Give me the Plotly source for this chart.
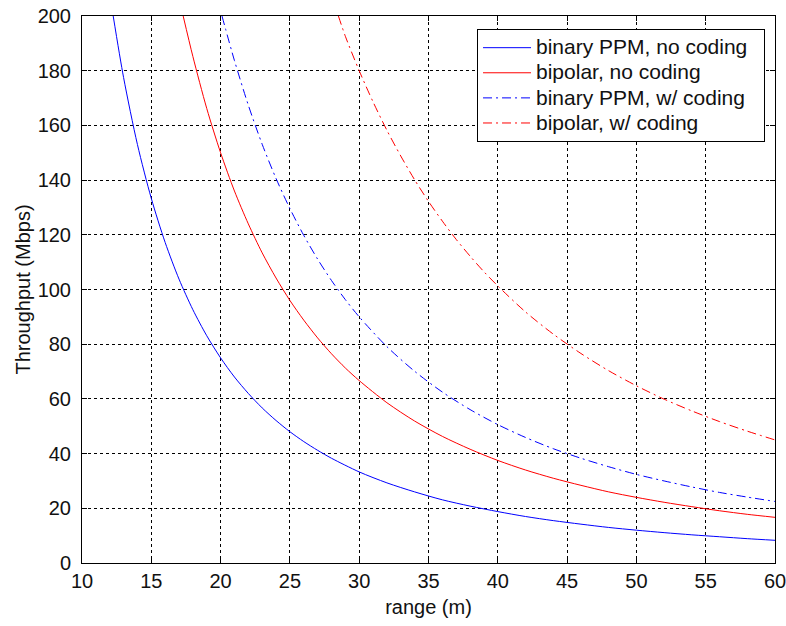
import plotly.graph_objects as go

# Values
x_bppm = [12.25, 13, 14, 15, 16, 17, 18, 19, 20, 21, 22, 23, 24, 25, 26, 27, 28, 30, 32, 34,
          36, 38, 40, 42, 44, 46, 48, 50, 52, 54, 56, 58, 60]
y_bppm = [200, 177.5, 153, 133.3, 117.2, 103.8, 92.6, 83.1, 75, 68, 62, 56.7, 52.1, 48,
          44.4, 41.2, 38.3, 33.3, 29.3, 26, 23.1, 20.8, 18.8, 17, 15.5, 14.2, 13, 12, 11.1,
          10.3, 9.6, 8.9, 8.3]

x_bip = [17.3, 18, 19, 20, 21, 22, 23, 24, 25, 26, 27, 28, 29, 30, 32, 34, 36, 38, 40, 42,
         44, 46, 48, 50, 52, 54, 56, 58, 60]
y_bip = [200, 185.2, 166.2, 150, 136, 124, 113.4, 104.2, 96, 88.8, 82.3, 76.5, 71.3, 66.7,
         58.6, 51.9, 46.3, 41.6, 37.5, 34, 31, 28.4, 26, 24, 22.2, 20.6, 19.1, 17.8, 16.7]

x_bppm_c = [20.1, 21, 22, 23, 24, 25, 26, 27, 28, 29, 30, 32, 34, 36, 38, 40, 42, 44, 46,
            48, 50, 52, 54, 56, 58, 60]
y_bppm_c = [200, 183.7, 167.4, 153.1, 140.6, 129.6, 119.8, 111.1, 103.3, 96.3, 90, 79.1,
            70.1, 62.5, 56.1, 50.6, 45.9, 41.8, 38.3, 35.2, 32.4, 30, 27.8, 25.8, 24.1, 22.5]

x_bip_c = [28.5, 29, 30, 31, 32, 33, 34, 35, 36, 37, 38, 39, 40, 42, 44, 46, 48, 50, 52,
           54, 56, 58, 60]
y_bip_c = [200, 192.6, 180, 168.6, 158.2, 148.8, 140.1, 132.2, 125, 118.3, 112.2, 106.5,
           101.3, 91.8, 83.7, 76.6, 70.3, 64.8, 59.9, 55.6, 51.7, 48.2, 45]

names = ["binary PPM, no coding", "bipolar, no coding",
         "binary PPM, w/ coding", "bipolar, w/ coding"]
x_ticks = [10, 15, 20, 25, 30, 35, 40, 45, 50, 55, 60]
y_ticks = [0, 20, 40, 60, 80, 100, 120, 140, 160, 180, 200]

BLUE = "#0000ff"
RED = "#ff0000"
DASHDOT = "9px,4px,2px,4px"
FONT = "Liberation Sans, Arial, sans-serif"
TXT = "#111111"

fig = go.Figure()
series = [
    (x_bppm, y_bppm, names[0], BLUE, "solid"),
    (x_bip, y_bip, names[1], RED, "solid"),
    (x_bppm_c, y_bppm_c, names[2], BLUE, DASHDOT),
    (x_bip_c, y_bip_c, names[3], RED, DASHDOT),
]
for xs, ys, nm, col, dash in series:
    fig.add_trace(go.Scatter(x=xs, y=ys, mode="lines",
                             name='<span style="font-size:21px">' + nm + '\u00a0\u00a0</span>',
                             line=dict(color=col, width=1, dash=dash, shape="spline",
                                       smoothing=0.8)))

axis_common = dict(
    showline=True, linecolor="black", linewidth=1, mirror="ticks",
    ticks="inside", ticklen=5, tickcolor="black",
    showgrid=True, gridcolor="black", gridwidth=1, griddash="3px,3px",
    zeroline=False, tickfont=dict(size=20, color=TXT, family=FONT),
    automargin=False, ticklabeloverflow="allow",
)

fig.update_xaxes(range=[10, 60], tickvals=x_ticks, ticktext=[str(v) for v in x_ticks],
                 title=dict(text="range (m)", font=dict(size=20, color=TXT, family=FONT),
                            standoff=8),
                 **axis_common)
fig.update_yaxes(range=[0, 200], tickvals=y_ticks, ticktext=[str(v) for v in y_ticks],
                 ticklabelstandoff=6,
                 title=dict(text="Throughput (Mbps)", font=dict(size=20, color=TXT, family=FONT),
                            standoff=1),
                 **axis_common)

fig.update_layout(
    width=786, height=626,
    margin=dict(l=82, r=11, t=16, b=63),
    paper_bgcolor="white", plot_bgcolor="white",
    font=dict(family=FONT, color=TXT),
    legend=dict(x=0.9856, y=0.976, xanchor="right", yanchor="top",
                bgcolor="white", bordercolor="black", borderwidth=1,
                font=dict(size=17, color=TXT, family=FONT), tracegroupgap=0,
                itemwidth=48),
    showlegend=True,
)

fig.write_html("out.html", config={"displayModeBar": False},
               post_script="document.body.style.margin='0';document.body.style.padding='0';")
